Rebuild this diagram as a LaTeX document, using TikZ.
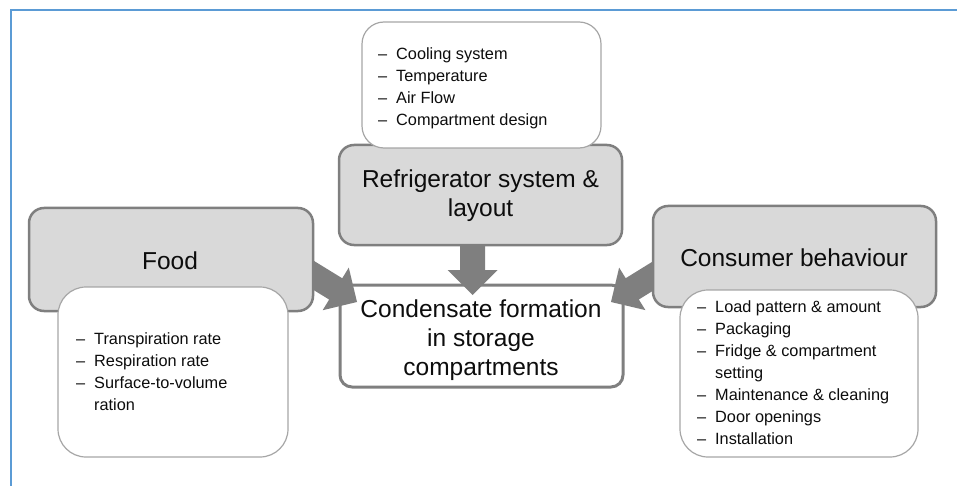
\documentclass[tikz,border=0pt]{standalone}
\usepackage{fontspec}
\setmainfont{Liberation Sans}
\usetikzlibrary{calc}
\definecolor{frameblue}{HTML}{5B9BD5}
\definecolor{boxgray}{HTML}{D9D9D9}
\definecolor{edgegray}{HTML}{7F7F7F}
\definecolor{listedge}{HTML}{A6A6A6}
\definecolor{txt}{HTML}{0D0D0D}
\newcommand{\fatarrow}[2]{%
  \coordinate (#2h) at ($(#2)!25pt!(#1)$);
  \fill[edgegray] ($(#1)!12.5pt!90:(#2)$) -- ($(#2h)!12.5pt!90:(#2)$) -- ($(#2h)!25pt!90:(#2)$) -- (#2)
    -- ($(#2h)!25pt!-90:(#2)$) -- ($(#2h)!12.5pt!-90:(#2)$) -- ($(#1)!12.5pt!-90:(#2)$) -- cycle;}
\newcommand{\dashitem}{\makebox[18pt][l]{–}}
\begin{document}
\begin{tikzpicture}[x=1pt,y=-1pt,
  graybox/.style={draw=edgegray, fill=boxgray, line width=2.5pt, rounded corners=15pt, inner sep=0pt},
  listbox/.style={draw=listedge, fill=white, line width=1.2pt, inner sep=0pt},
  mainbox/.style={draw=edgegray, fill=white, line width=3pt, rounded corners=12pt, inner sep=0pt},
  bigtext/.style={font=\fontsize{24.5}{29}\selectfont, text=txt, anchor=base, inner sep=0pt},
  listtext/.style={font=\fontsize{16.3}{22}\selectfont, text=txt, anchor=base west, inner sep=0pt}]
\useasboundingbox (0,0) rectangle (957,486);
% frame
\draw[frameblue, line width=2pt] (10.5,486) -- (10.5,10.5) -- (957,10.5);
% central box
\node[mainbox, minimum width=283pt, minimum height=102pt] (cond) at (481.5,336) {};
% gray boxes positions (needed for arrows)
\path (171,259.5) coordinate (foodc) (480.5,195) coordinate (refrc) (794.5,256.5) coordinate (consc);
% arrows
\coordinate (aL0) at (300,267);
\coordinate (aL1) at (357,302);
\coordinate (aD0) at (472.5,235);
\coordinate (aD1) at (472.5,295);
\coordinate (aR0) at (666,268);
\coordinate (aR1) at (611,302);
\fatarrow{aL0}{aL1}
\fatarrow{aD0}{aD1}
\fatarrow{aR0}{aR1}
% gray boxes
\node[graybox, minimum width=284pt, minimum height=103pt] (food) at (foodc) {};
\node[graybox, minimum width=283pt, minimum height=100pt] (refr) at (refrc) {};
\node[graybox, minimum width=283pt, minimum height=101pt] (cons) at (consc) {};
% white list boxes
\node[listbox, rounded corners=28pt, minimum width=230pt, minimum height=170pt] (foodlist) at (173,372) {};
\node[listbox, rounded corners=22pt, minimum width=239pt, minimum height=126pt] (refrlist) at (481.5,85) {};
\node[listbox, rounded corners=28pt, minimum width=238pt, minimum height=167pt] (conslist) at (799,373.5) {};
% titles
\node[bigtext] (foodlbl) at (170,269) {Food};
\node[bigtext] (refrlbl) at (480.5,188) {\begin{tabular}[t]{@{}c@{}}Refrigerator system \&\\ layout\end{tabular}};
\node[bigtext] (condlbl) at (481,317) {\begin{tabular}[t]{@{}c@{}}Condensate formation\\ in storage\\ compartments\end{tabular}};
\node[bigtext] (conslbl) at (794,266) {Consumer behaviour};
% lists
\node[listtext] (foodtxt) at (76,344) {\begin{tabular}[t]{@{}l@{}l@{}}
\dashitem & Transpiration rate\\
\dashitem & Respiration rate\\
\dashitem & Surface-to-volume\\
 & ration\end{tabular}};
\node[listtext] (refrtxt) at (378,60) {\begin{tabular}[t]{@{}l@{}l@{}}
\dashitem & Cooling system\\
\dashitem & Temperature\\
\dashitem & Air Flow\\
\dashitem & Compartment design\end{tabular}};
\node[listtext] (constxt) at (697,312) {\begin{tabular}[t]{@{}l@{}l@{}}
\dashitem & Load pattern \& amount\\
\dashitem & Packaging\\
\dashitem & Fridge \& compartment\\
 & setting\\
\dashitem & Maintenance \& cleaning\\
\dashitem & Door openings\\
\dashitem & Installation\end{tabular}};
\end{tikzpicture}
\end{document}
